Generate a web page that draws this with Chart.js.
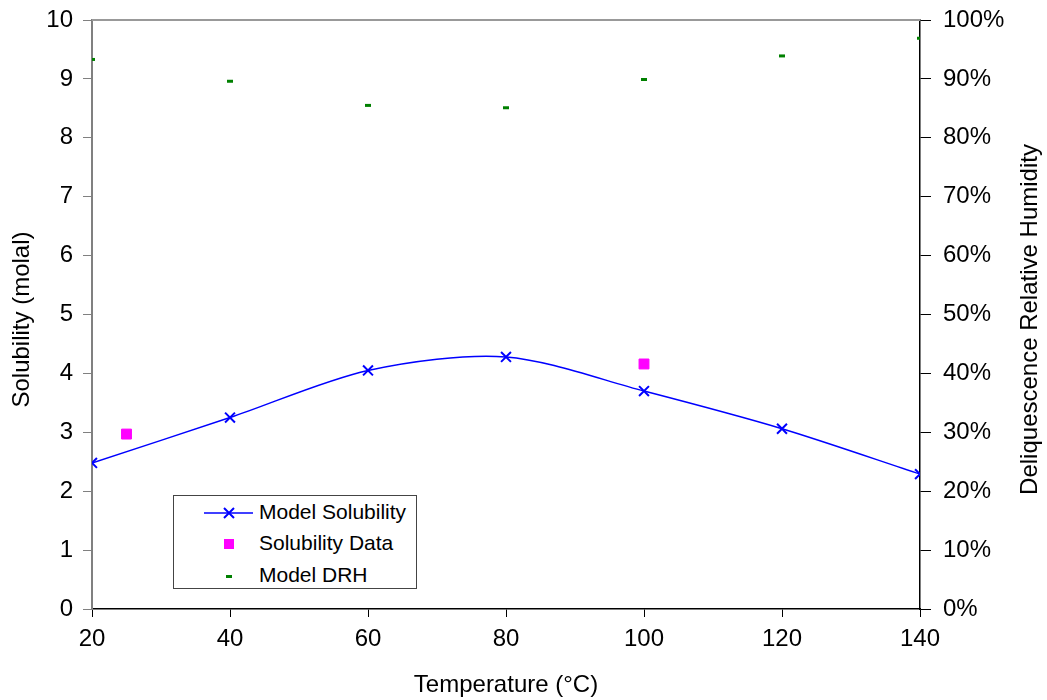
<!DOCTYPE html>
<html>
<head>
<meta charset="utf-8">
<script src="https://cdn.jsdelivr.net/npm/chart.js@4"></script>
<style>
  body { margin: 0; background: #fff; }
  #wrap { position: relative; width: 1047px; height: 700px; }
  .legend {
    position: absolute; left: 173px; top: 495px; width: 244px; height: 94px;
    border: 1px solid #444; background: #fff; box-sizing: border-box;
    font-family: "Liberation Sans", Arial, sans-serif; font-size: 21px; color: #000;
  }
  .legend .row { position: absolute; left: 85px; height: 24px; line-height: 24px; white-space: nowrap; }
</style>
</head>
<body>
<div id="wrap">
  <canvas id="chart" width="1047" height="700"></canvas>
  <div class="legend">
    <canvas id="legendIcons" width="84" height="92" style="position:absolute;left:0;top:0"></canvas>
    <div class="row" style="top:4px">Model Solubility</div>
    <div class="row" style="top:35px">Solubility Data</div>
    <div class="row" style="top:67px">Model DRH</div>
  </div>
</div>
<script>
// Temperature (°C) for the model points
const modelTemps = [20, 40, 60, 80, 100, 120, 140];
const modelSolubility = [2.48, 3.25, 4.05, 4.28, 3.70, 3.06, 2.29];
const modelDRH = [93.3, 89.6, 85.5, 85.1, 89.9, 93.9, 96.9];

// measured points
const dataTemps = [25, 100];
const dataSolubility = [2.97, 4.16];

const xTicks = [20, 40, 60, 80, 100, 120, 140];
const leftTicks = [0, 1, 2, 3, 4, 5, 6, 7, 8, 9, 10];
const rightTicks = [0, 10, 20, 30, 40, 50, 60, 70, 80, 90, 100];

const blue = "#0000ff";
const magenta = "#ff00ff";
const green = "#008000";
const fontFamily = '"Liberation Sans", Arial, sans-serif';
const tickFont = { family: fontFamily, size: 24 };

// gray frame line on top, and both y titles reading bottom-to-top
const extras = {
  id: "extras",
  afterDraw(chart) {
    const a = chart.chartArea;
    const ctx = chart.ctx;
    ctx.save();
    ctx.strokeStyle = "#999";
    ctx.lineWidth = 2;
    ctx.beginPath();
    ctx.moveTo(a.left, a.top);
    ctx.lineTo(a.right, a.top);
    ctx.stroke();

    ctx.fillStyle = "#000";
    ctx.font = "24px " + fontFamily;
    ctx.textAlign = "center";
    ctx.textBaseline = "middle";
    const midY = (a.top + a.bottom) / 2 + 5;
    ctx.translate(22, midY);
    ctx.rotate(-Math.PI / 2);
    ctx.fillText("Solubility (molal)", 0, 0);
    ctx.rotate(Math.PI / 2);
    ctx.translate(1030 - 22, 0);
    ctx.rotate(-Math.PI / 2);
    ctx.fillText("Deliquescence Relative Humidity", 0, 0);
    ctx.restore();
  },
};

const ctx = document.getElementById("chart").getContext("2d");
new Chart(ctx, {
  type: "scatter",
  data: {
    datasets: [
      {
        label: "Model Solubility",
        data: modelTemps.map((t, i) => ({ x: t, y: modelSolubility[i] })),
        showLine: true,
        tension: 0.3,
        borderColor: blue,
        backgroundColor: blue,
        borderWidth: 1.5,
        pointStyle: "crossRot",
        pointRadius: 7,
        pointBorderWidth: 2,
        yAxisID: "y",
      },
      {
        label: "Solubility Data",
        data: dataTemps.map((t, i) => ({ x: t, y: dataSolubility[i] })),
        pointStyle: "rect",
        pointRadius: 7,
        borderColor: magenta,
        backgroundColor: magenta,
        yAxisID: "y",
      },
      {
        label: "Model DRH",
        data: modelTemps.map((t, i) => ({ x: t, y: modelDRH[i] })),
        pointStyle: "line",
        pointRadius: 3,
        pointBorderWidth: 3,
        borderColor: green,
        backgroundColor: green,
        yAxisID: "y2",
      },
    ],
  },
  options: {
    responsive: false,
    animation: false,
    layout: { padding: { top: 20, left: 0, right: 0, bottom: 0 } },
    plugins: {
      legend: { display: false },
      tooltip: { enabled: false },
    },
    scales: {
      x: {
        type: "linear",
        min: 20,
        max: 140,
        afterBuildTicks: (axis) => { axis.ticks = xTicks.map((v) => ({ value: v })); },
        afterFit: (axis) => { axis.height = 91; },
        border: { color: "#000", width: 1.5 },
        grid: { drawOnChartArea: false, color: "#000", tickLength: 8 },
        ticks: { color: "#000", font: tickFont, padding: 8 },
        title: {
          display: true,
          text: "Temperature (°C)",
          color: "#000",
          font: tickFont,
          padding: 0,
        },
      },
      y: {
        position: "left",
        min: 0,
        max: 10,
        afterBuildTicks: (axis) => { axis.ticks = leftTicks.map((v) => ({ value: v })); },
        afterFit: (axis) => {
          axis.width = 92;
          axis.paddingTop = 0;
          axis.paddingBottom = 0;
        },
        border: { color: "#808080", width: 2 },
        grid: { drawOnChartArea: false, color: "#808080", tickLength: 9 },
        ticks: { color: "#000", font: tickFont, padding: 10 },
      },
      y2: {
        position: "right",
        min: 0,
        max: 100,
        afterBuildTicks: (axis) => { axis.ticks = rightTicks.map((v) => ({ value: v })); },
        afterFit: (axis) => {
          axis.width = 127;
          axis.paddingTop = 0;
          axis.paddingBottom = 0;
        },
        border: { color: "#000", width: 1.5 },
        grid: { drawOnChartArea: false, color: "#000", tickLength: 11 },
        ticks: {
          color: "#000",
          font: tickFont,
          padding: 12,
          callback: (v) => v + "%",
        },
      },
    },
  },
  plugins: [extras],
});

// legend symbols
const lc = document.getElementById("legendIcons").getContext("2d");
lc.strokeStyle = blue;
lc.lineWidth = 1.5;
lc.beginPath();
lc.moveTo(30, 17);
lc.lineTo(79, 17);
lc.stroke();
lc.lineWidth = 2;
lc.beginPath();
lc.moveTo(50, 12); lc.lineTo(60, 22);
lc.moveTo(60, 12); lc.lineTo(50, 22);
lc.stroke();
lc.fillStyle = magenta;
lc.fillRect(50, 43, 10, 10);
lc.fillStyle = green;
lc.fillRect(52, 79, 6, 3);
</script>
</body>
</html>
